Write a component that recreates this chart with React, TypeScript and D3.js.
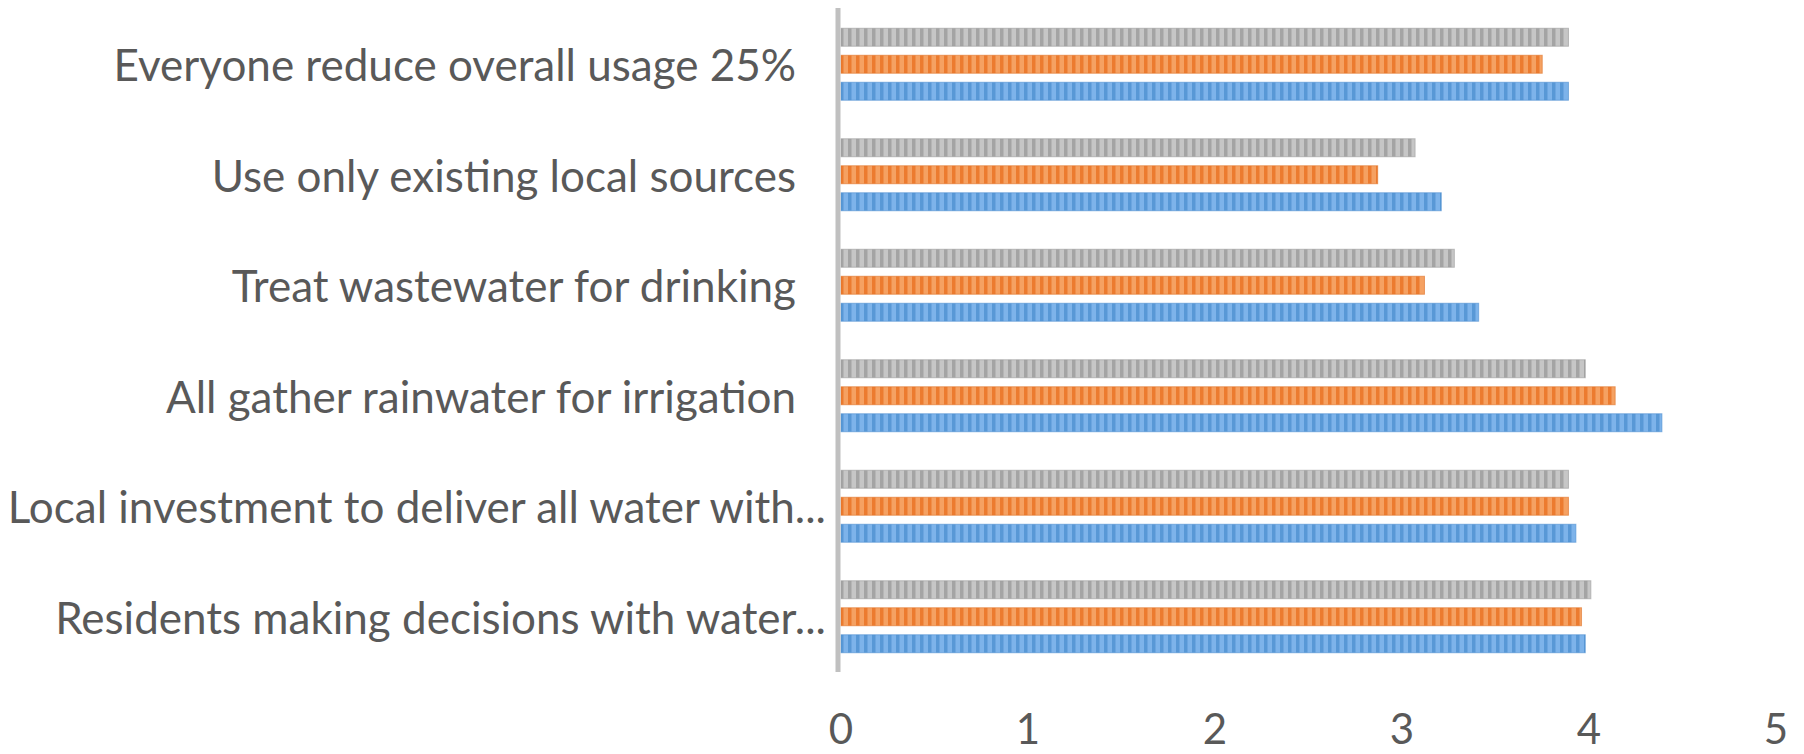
import React from "react";
import * as d3 from "d3";

// Categories, listed top to bottom as drawn
const categories = [
  "Everyone reduce overall usage 25%",
  "Use only existing local sources",
  "Treat wastewater for drinking",
  "All gather rainwater for irrigation",
  "Local investment to deliver all water with...",
  "Residents making decisions with water...",
];

// Series values, one per category (same order as above)
const series1 = [3.89, 3.21, 3.41, 4.39, 3.93, 3.98]; // blue
const series2 = [3.75, 2.87, 3.12, 4.14, 3.89, 3.96]; // orange
const series3 = [3.89, 3.07, 3.28, 3.98, 3.89, 4.01]; // gray

const seriesNames = ["Series 3", "Series 2", "Series 1"]; // top to bottom within a group
const seriesValues = [series3, series2, series1];

const xTicks = [0, 1, 2, 3, 4, 5];

const W = 1804;
const H = 754;

const styles = [
  { id: "pat-gray", dark: "#a4a4a4", light: "#c6c6c6", edge: "#9c9c9c" },
  { id: "pat-orange", dark: "#ec7b2f", light: "#f5a162", edge: "#e07328" },
  { id: "pat-blue", dark: "#5898d6", light: "#7db3ea", edge: "#4f8fd0" },
];

export default function App() {
  const x = d3.scaleLinear().domain([0, 5]).range([841, 1776]);
  const y = d3.scaleBand<string>().domain(categories).range([9, 672]).padding(0);
  const inner = d3
    .scaleBand<string>()
    .domain(seriesNames)
    .range([-40.5, 40.5])
    .paddingInner(1 / 3)
    .paddingOuter(1 / 6);

  const font = "Lato, 'Open Sans', sans-serif";
  const fontSize = 44;

  return (
    <svg
      width={W}
      height={H}
      viewBox={`0 0 ${W} ${H}`}
      style={{ position: "absolute", left: 0, top: 0, background: "#fff" }}
    >
      <defs>
        {styles.map((s) => (
          <pattern
            key={s.id}
            id={s.id}
            patternUnits="userSpaceOnUse"
            width={8}
            height={20}
          >
            <rect width={8} height={20} fill={s.light} />
            <rect width={3.5} height={20} fill={s.dark} />
          </pattern>
        ))}
      </defs>

      {/* bars */}
      {categories.map((c, ci) => {
        const cy = (y(c) as number) + y.bandwidth() / 2;
        return (
          <g key={c}>
            {seriesNames.map((sn, si) => {
              const v = seriesValues[si][ci];
              const by = cy + (inner(sn) as number);
              return (
                <rect
                  key={sn}
                  x={x(0)}
                  y={by}
                  width={x(v) - x(0)}
                  height={inner.bandwidth()}
                  fill={`url(#${styles[si].id})`}
                  stroke={styles[si].edge}
                  strokeWidth={1}
                  strokeOpacity={0.6}
                />
              );
            })}
          </g>
        );
      })}

      {/* vertical axis line */}
      <line
        x1={x(0) - 3}
        x2={x(0) - 3}
        y1={y.range()[0] - 1}
        y2={y.range()[1]}
        stroke="#c0c0c0"
        strokeWidth={5}
      />

      {/* category labels */}
      {categories.map((c) => {
        const cy = (y(c) as number) + y.bandwidth() / 2;
        const truncated = c.endsWith("...");
        return (
          <text
            key={c}
            x={x(0) - 15 - (truncated ? 0 : 30)}
            y={cy}
            textAnchor="end"
            dominantBaseline="central"
            fontFamily={font}
            fontSize={fontSize}
            fill="#595959"
          >
            {c}
          </text>
        );
      })}

      {/* x tick labels */}
      {xTicks.map((t) => (
        <text
          key={t}
          x={x(t)}
          y={744}
          textAnchor="middle"
          fontFamily={font}
          fontSize={42}
          fill="#595959"
        >
          {t}
        </text>
      ))}
    </svg>
  );
}
